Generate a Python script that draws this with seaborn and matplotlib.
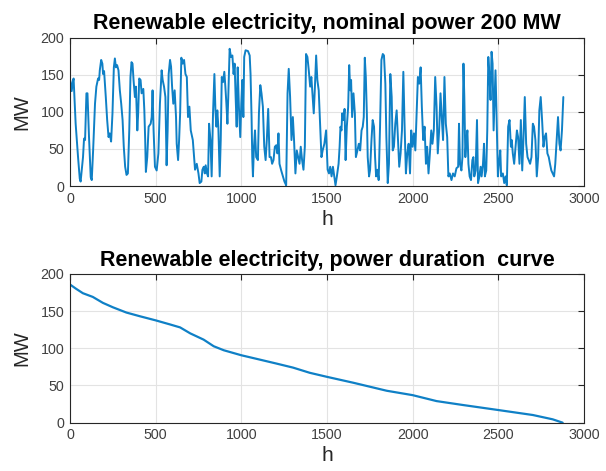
import matplotlib
matplotlib.use("Agg")
import matplotlib.pyplot as plt
import seaborn as sns
import pandas as pd

# ---- data ----
hours = [2, 10, 16, 21, 33, 47, 57, 62, 76, 82, 88, 96, 102, 111, 121, 127, 135, 146, 154, 164,
         170, 174, 182, 189, 193, 199, 209, 217, 225, 232, 240, 248, 256, 262, 268, 275, 283, 291, 299, 307,
         314, 322, 330, 338, 346, 353, 359, 365, 371, 379, 385, 393, 398, 404, 412, 418, 428, 434, 439, 443,
         451, 459, 471, 477, 482, 488, 496, 506, 516, 525, 535, 541, 549, 557, 564, 570, 576, 584, 590, 596,
         603, 611, 619, 623, 631, 637, 643, 650, 658, 666, 674, 682, 689, 697, 705, 717, 730, 740, 750,
         757, 767, 773, 781, 787, 792, 800, 806, 812, 820, 827, 835, 843, 849, 855, 860, 866, 874, 880, 886,
         893, 901, 907, 913, 919, 924, 932, 940, 948, 955, 961, 967, 973, 979, 986, 994, 1000, 1006, 1012, 1017,
         1025, 1039, 1049, 1054, 1060, 1064, 1068, 1074, 1080, 1087, 1097, 1103, 1111, 1118, 1126, 1134, 1142, 1149, 1157, 1165,
         1173, 1180, 1188, 1196, 1204, 1211, 1217, 1223, 1233, 1243, 1252, 1262, 1270, 1277, 1285, 1293, 1301, 1308, 1316, 1324,
         1332, 1340, 1347, 1355, 1363, 1371, 1378, 1386, 1394, 1402, 1409, 1417, 1423, 1429, 1437, 1444, 1452, 1460, 1468, 1475,
         1485, 1495, 1504,
         1512, 1519, 1527, 1535, 1543, 1550, 1558, 1568, 1574, 1579, 1585, 1589, 1597, 1603, 1609, 1616, 1624, 1630, 1636, 1641,
         1647, 1655, 1663, 1669, 1678, 1686, 1694, 1702, 1709, 1715, 1721, 1727, 1733, 1738, 1746, 1752, 1760, 1767, 1775, 1781,
         1787, 1795, 1802, 1810, 1818, 1826, 1833, 1841, 1847, 1855, 1862, 1870, 1878, 1884, 1891, 1899, 1907, 1915, 1922, 1930,
         1938, 1946, 1953, 1961, 1969, 1977, 1985, 1992, 2000, 2008, 2016, 2023, 2031, 2039, 2047, 2054, 2062, 2070, 2078, 2085,
         2093, 2101, 2109, 2116, 2124, 2132, 2140, 2147, 2155, 2163, 2171, 2178, 2186, 2194, 2202, 2209, 2217, 2227, 2236, 2246,
         2256, 2266,
         2271, 2277, 2285, 2291, 2297, 2302, 2308, 2314, 2320, 2326, 2333, 2341, 2349, 2355, 2360, 2368, 2376, 2382, 2390, 2397,
         2403, 2411, 2417, 2422, 2430, 2436, 2442, 2450, 2455, 2461, 2467, 2473, 2479, 2484, 2490, 2498, 2504, 2512, 2517, 2527,
         2535, 2543, 2550, 2558, 2566, 2574, 2579, 2585, 2593, 2601, 2609, 2616, 2624, 2632, 2640, 2647, 2655, 2663, 2671, 2678,
         2686, 2694, 2702, 2709, 2717, 2725, 2733, 2740, 2748, 2756, 2764, 2771, 2779, 2787, 2795, 2802, 2810, 2818, 2826, 2833,
         2841, 2849, 2857, 2864, 2872, 2880]

power_mw = [142, 128, 140, 145, 84, 39, 10, 6, 39, 64, 62, 125, 125, 66, 12, 8, 48, 111, 134, 145,
            143, 156, 170, 165, 151, 155, 120, 89, 66, 71, 60, 98, 160, 172, 160, 163, 156, 129, 111, 89,
            53, 26, 15, 17, 75, 147, 167, 165, 143, 120, 134, 75, 98, 145, 143, 125, 131, 102, 62, 19,
            39, 80, 84, 93, 129, 75, 26, 21, 44, 111, 156, 143, 134, 120, 28, 75, 151, 170, 161, 134,
            111, 129, 93, 57, 35, 62, 98, 173, 165, 170, 151, 147, 93, 107, 75, 62, 22, 30, 17,
            4, 6, 22, 26, 17, 28, 17, 13, 84, 62, 13, 98, 151, 102, 80, 102, 80, 13, 62, 147,
            140, 154, 134, 111, 84, 120, 185, 174, 176, 151, 165, 120, 80, 160, 107, 66, 111, 143, 93, 174,
            183, 182, 176, 151, 93, 39, 13, 53, 75, 39, 35, 98, 136, 125, 107, 53, 35, 62, 104, 39,
            39, 30, 35, 53, 55, 44, 71, 30, 21, 13, 6, 1, 125, 158, 120, 62, 93, 62, 17, 48,
            39, 30, 53, 35, 22, 53, 178, 174, 156, 134, 147, 120, 98, 129, 176, 143, 129, 84, 39, 48,
            57, 75, 22,
            17, 26, 13, 26, 13, 1, 13, 30, 53, 80, 75, 98, 89, 104, 35, 80, 107, 163, 129, 143,
            93, 125, 98, 39, 48, 57, 48, 75, 80, 93, 173, 147, 98, 39, 13, 22, 62, 89, 80, 39,
            13, 22, 8, 80, 170, 178, 176, 138, 66, 4, 30, 151, 120, 48, 53, 84, 102, 62, 26, 44,
            75, 154, 84, 17, 44, 57, 17, 75, 53, 71, 48, 93, 147, 138, 160, 107, 62, 80, 30, 53,
            17, 44, 75, 57, 75, 147, 107, 44, 75, 125, 89, 62, 147, 84, 66, 13, 17, 8, 17, 13,
            24, 26,
            84, 30, 21, 39, 165, 120, 39, 62, 75, 30, 13, 8, 35, 39, 13, 21, 89, 4, 13, 26,
            13, 30, 57, 13, 21, 75, 174, 143, 116, 181, 165, 75, 120, 156, 98, 13, 30, 48, 13, 17,
            4, 13, 1, 80, 89, 53, 62, 44, 30, 53, 75, 66, 30, 89, 21, 62, 120, 57, 39, 35,
            30, 39, 84, 80, 62, 13, 39, 102, 120, 89, 53, 66, 71, 44, 39, 30, 21, 17, 13, 30,
            62, 93, 57, 48, 75, 120]

duration_h = [0, 35, 75, 133, 192, 251, 329, 408, 500, 584, 643, 702, 780, 839, 898, 1000,
              1107, 1204, 1302, 1400, 1500, 1655, 1849, 2000, 2140, 2295, 2500, 2702, 2818, 2876]
duration_mw = [185.7, 180, 174, 169, 161, 155, 148, 143, 137.5, 132, 128, 120, 111.6, 102.7, 97.3, 90.6,
               84.8, 79.5, 74, 67, 61.6, 53.6, 42.9, 37, 29, 23.7, 17, 10.3, 4.5, 0]

x_ticks = [0, 500, 1000, 1500, 2000, 2500, 3000]
y_ticks = [0, 50, 100, 150, 200]
titles = ["Renewable electricity, nominal power 200 MW",
          "Renewable electricity, power duration  curve"]
x_label = "h"
y_label = "MW"

# ---- plotting ----
sns.set_style("white")
plt.rcParams["font.family"] = ["Liberation Sans", "DejaVu Sans"]

line_color = "#0f80c6"
axis_color = "#262626"
tick_label_color = "#404040"

fig = plt.figure(figsize=(6.06, 4.71), dpi=100)
ax1 = fig.add_axes([0.1155, 0.605, 0.848, 0.315])
ax2 = fig.add_axes([0.1155, 0.1026, 0.848, 0.316])

df_ts = pd.DataFrame({"h": hours, "MW": power_mw})
df_dc = pd.DataFrame({"h": duration_h, "MW": duration_mw})

sns.lineplot(data=df_ts, x="h", y="MW", ax=ax1, color=line_color, linewidth=1.4,
             estimator=None, sort=False)
sns.lineplot(data=df_dc, x="h", y="MW", ax=ax2, color=line_color, linewidth=1.6,
             estimator=None, sort=False)

for ax, title in zip([ax1, ax2], titles):
    ax.set_xlim(0, 3000)
    ax.set_ylim(0, 200)
    ax.set_xticks(x_ticks)
    ax.set_yticks(y_ticks)
    ax.grid(True, color="#e3e3e3", linewidth=0.8)
    ax.set_axisbelow(True)
    for s in ax.spines.values():
        s.set_visible(True)
        s.set_color(axis_color)
        s.set_linewidth(0.8)
    ax.tick_params(direction="in", length=4, width=0.8, color=axis_color,
                   labelcolor=tick_label_color, labelsize=10.3, top=True, right=True,
                   pad=4)
    ax.set_title(title, fontsize=15.5, fontweight="bold", color="black", pad=6)
    ax.set_xlabel(x_label, fontsize=15, color=axis_color, labelpad=3)
    ax.set_ylabel(y_label, fontsize=14.5, color=axis_color, labelpad=7)

fig.savefig("out.png", dpi=100)
